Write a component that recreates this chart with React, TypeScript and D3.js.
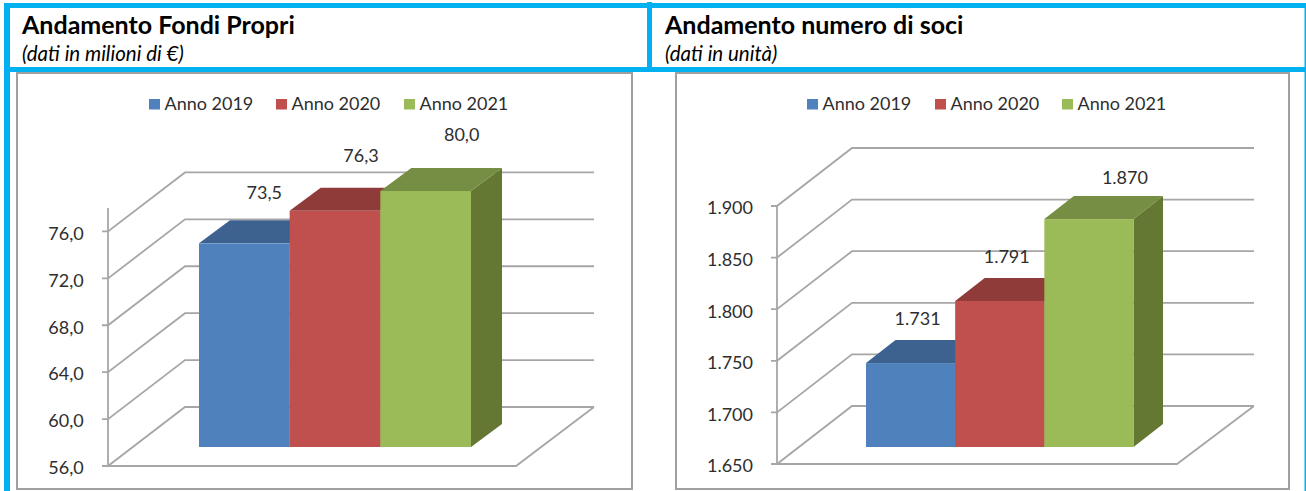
import React from "react";
import * as d3 from "d3";

const years = ["Anno 2019", "Anno 2020", "Anno 2021"];
const fondiValues = [73.5, 76.3, 80.0];
const fondiLabels = ["73,5", "76,3", "80,0"];
const fondiTicks = [56, 60, 64, 68, 72, 76];
const sociValues = [1731, 1791, 1870];
const sociLabels = ["1.731", "1.791", "1.870"];
const sociTicks = [1650, 1700, 1750, 1800, 1850, 1900];

const FRONT = ["#4F81BD", "#C0504D", "#9BBB59"];
const TOP = ["#3D6290", "#8F3B39", "#768E44"];
const SIDE = ["#3A5F8C", "#8E3A38", "#647733"];
const GRID = "#A6A6A6";
const BLUE = "#00B0F0";
const TEXT = "#2e2e2e";
const FONT = "Lato, Carlito, sans-serif";

type Cfg = {
  frame: [number, number, number, number];
  axisX: number; axisRange: [number, number]; domain: [number, number];
  backDx: number; backDy: number; gridEnd: number; floorEnd: number; tickLabelDx: number;
  barX: [number, number]; barRange: [number, number]; depth: [number, number];
  ticks: number[]; values: number[]; labels: string[]; fmt: (v: number) => string;
  labelOff: [number, number][]; legendX: number[];
};

function Chart({ c }: { c: Cfg }) {
  const axis = d3.scaleLinear().domain(c.domain).range(c.axisRange);
  const bar = d3.scaleLinear().domain(c.domain).range(c.barRange).clamp(true);
  const band = d3.scaleBand<number>().domain([0, 1, 2]).range(c.barX);
  const line = d3.line();
  const [dx, dy] = c.depth;
  const base = c.barRange[0];
  return (
    <g>
      <rect x={c.frame[0]} y={c.frame[1]} width={c.frame[2] - c.frame[0]} height={c.frame[3] - c.frame[1]} fill="#fff" stroke="#A0A0A0" strokeWidth={2} />
      {years.map((y, i) => (
        <g key={y}>
          <rect x={c.legendX[i]} y={99} width={11} height={10.5} fill={FRONT[i]} />
          <text x={c.legendX[i] + 15.5} y={109.5} fontSize={18} fill={TEXT} fontFamily={FONT}>{y}</text>
        </g>
      ))}
      <path d={line([[c.axisX, axis(c.domain[1])], [c.axisX, axis(c.domain[0])]])!} stroke={GRID} strokeWidth={1.8} fill="none" />
      {c.ticks.map((t) => {
        const y = axis(t);
        const bx = c.axisX + c.backDx;
        const by = y - c.backDy;
        return (
          <g key={t}>
            <path d={line([[c.axisX - 6, y], [c.axisX, y], [bx, by], [c.gridEnd, by]])!} stroke={GRID} strokeWidth={1.8} fill="none" />
            <text x={c.axisX + c.tickLabelDx} y={y + 2} dy="0.35em" textAnchor="middle" fontSize={18} fill={TEXT} fontFamily={FONT}>{c.fmt(t)}</text>
          </g>
        );
      })}
      <path d={line([[c.axisX, axis(c.domain[0])], [c.floorEnd, axis(c.domain[0])], [c.gridEnd, axis(c.domain[0]) - c.backDy]])!} stroke={GRID} strokeWidth={1.8} fill="none" />
      {c.values.map((v, i) => {
        const x0 = band(i)!;
        const x1 = x0 + band.bandwidth();
        const y = bar(v);
        return (
          <g key={i}>
            <path d={line([[x1, y], [x1 + dx, y - dy], [x1 + dx, base - dy], [x1, base]])! + "Z"} fill={SIDE[i]} />
            <path d={line([[x0, y], [x0 + dx, y - dy], [x1 + dx, y - dy], [x1, y]])! + "Z"} fill={TOP[i]} />
            <rect x={x0} y={y} width={x1 - x0} height={base - y} fill={FRONT[i]} />
          </g>
        );
      })}
      {c.values.map((v, i) => (
        <text key={i} x={band(i)! + band.bandwidth() / 2 + c.labelOff[i][0]} y={bar(v) - c.labelOff[i][1]} dy="0.35em" textAnchor="middle" fontSize={18} fill={TEXT} fontFamily={FONT}>{c.labels[i]}</text>
      ))}
    </g>
  );
}

const itNum = (d: number) => d3.format(".1f")(d).replace(".", ",");
const itInt = (d: number) => d3.format(",")(d).replace(",", ".");

const left: Cfg = {
  frame: [17, 73, 632, 489], axisX: 108, axisRange: [466, 208], domain: [56, 78],
  backDx: 77, backDy: 59, gridEnd: 594, floorEnd: 516, tickLabelDx: -42,
  barX: [199, 471], barRange: [447, 191], depth: [31, 23],
  ticks: fondiTicks, values: fondiValues, labels: fondiLabels, fmt: itNum,
  labelOff: [[20, 51], [26, 55], [36, 56]], legendX: [149, 276, 404],
};
const right: Cfg = {
  frame: [676, 73, 1289, 489], axisX: 777, axisRange: [464, 206], domain: [1650, 1900],
  backDx: 75, backDy: 58, gridEnd: 1254, floorEnd: 1177, tickLabelDx: -47,
  barX: [866, 1133.5], barRange: [447, 188], depth: [29.5, 23],
  ticks: sociTicks, values: sociValues, labels: sociLabels, fmt: itInt,
  labelOff: [[7, 44], [7, 44], [36, 41]], legendX: [807, 935, 1062],
};

export default function App() {
  return (
    <svg width={1306} height={491} style={{ position: "absolute", left: 0, top: 0, background: "#fff" }}>
      <rect x={4} y={3} width={6} height={488} fill={BLUE} />
      <rect x={1304.5} y={3} width={1.5} height={488} fill={BLUE} />
      <rect x={4} y={3} width={1302} height={5} fill={BLUE} />
      <rect x={4} y={67} width={1302} height={5} fill={BLUE} />
      <rect x={647} y={2} width={5} height={70} fill={BLUE} />
      <Chart c={left} />
      <Chart c={right} />
      <text x={22} y={34} fontSize={25} fontWeight={700} fontFamily={FONT} fill="#000">Andamento Fondi Propri</text>
      <text x={22} y={61} fontSize={20.5} fontStyle="italic" fontFamily={FONT} fill="#000">(dati in milioni di €)</text>
      <text x={665} y={34} fontSize={25} fontWeight={700} fontFamily={FONT} fill="#000">Andamento numero di soci</text>
      <text x={665} y={61} fontSize={20.5} fontStyle="italic" fontFamily={FONT} fill="#000">(dati in unità)</text>
    </svg>
  );
}
